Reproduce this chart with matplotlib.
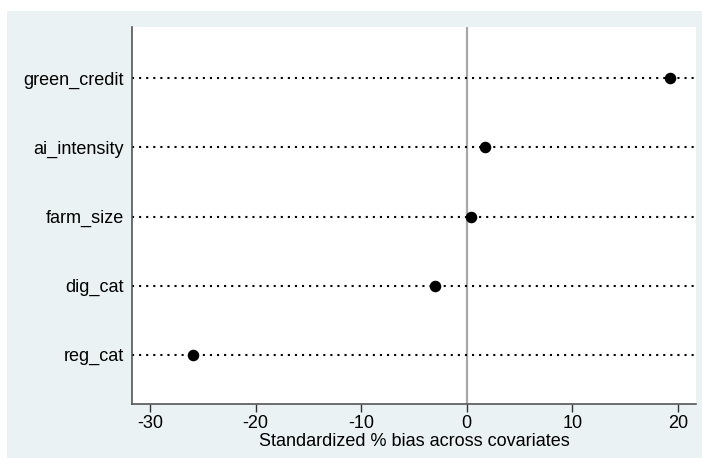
import matplotlib
matplotlib.use("Agg")
import matplotlib.pyplot as plt
from matplotlib.patches import Rectangle

variables = ["reg_cat", "dig_cat", "farm_size", "ai_intensity", "green_credit"]
bias = [-25.9, -3.0, 0.4, 1.75, 19.2]
xticks = [-30, -20, -10, 0, 10, 20]
xlabel = "Standardized % bias across covariates"

plt.rcParams['font.family'] = ['Liberation Sans', 'DejaVu Sans']

W, H = 702, 458
fig = plt.figure(figsize=(W / 100, H / 100), dpi=100)
fig.patch.set_facecolor("white")
bg = "#EAF2F3"
fig.patches.append(Rectangle((7 / W, 0), 1 - 7 / W, 1 - 11 / H,
                             transform=fig.transFigure, facecolor=bg,
                             edgecolor="none", zorder=-10))

left, right, top, bottom = 132, 696, 27, 404
ax = fig.add_axes([left / W, 1 - bottom / H, (right - left) / W, (bottom - top) / H])
ax.set_zorder(1)
ax.set_facecolor("white")

ypos = list(range(1, len(variables) + 1))
for y in ypos:
    ax.plot([-31.7, 21.7], [y, y], linestyle=(0, (1, 2.4)), color="black",
            linewidth=1.5, zorder=2)
ax.axvline(0, color="#A8A8A8", linewidth=1.6, zorder=1)
ax.plot(bias, ypos, "o", color="black", markersize=7.3, zorder=3)

ax.set_xlim(-31.7, 21.7)
ax.set_ylim(0.29, 5.74)
ax.set_xticks(xticks)
ax.set_xticklabels([str(t) for t in xticks], fontsize=13)
ax.set_yticks(ypos)
ax.set_yticklabels(variables, fontsize=13)
ax.tick_params(axis="y", length=0, pad=6)
ax.tick_params(axis="x", length=6, width=1, color="#333333", pad=2)
for s in ["top", "right"]:
    ax.spines[s].set_visible(False)
for s in ["left", "bottom"]:
    ax.spines[s].set_color("#555555")
    ax.spines[s].set_linewidth(1.2)
ax.set_xlabel(xlabel, fontsize=13, labelpad=0.5)

fig.savefig("out.png", dpi=100, facecolor=fig.get_facecolor())
